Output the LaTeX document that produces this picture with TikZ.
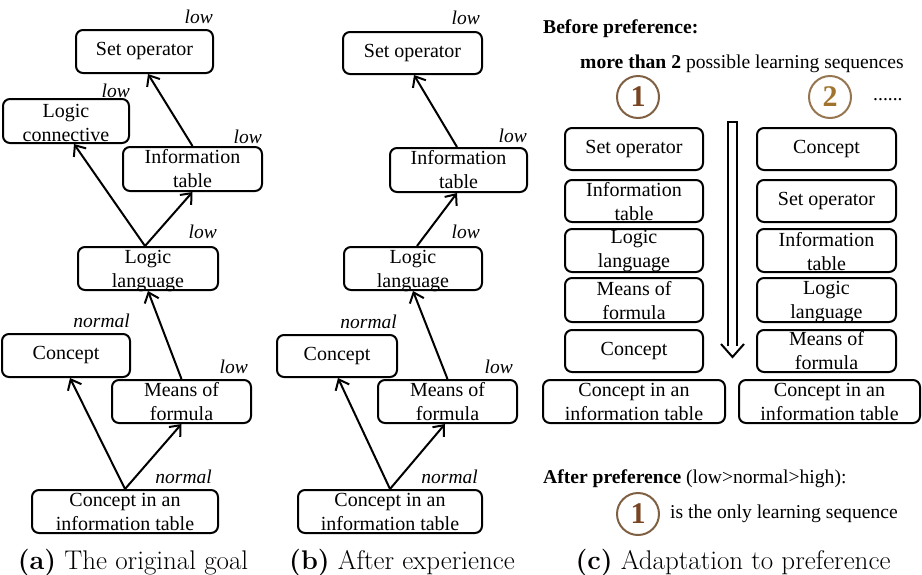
\documentclass[tikz,border=0pt]{standalone}
\usepackage{fontspec}
\newfontfamily\tnr{Liberation Serif}
\usetikzlibrary{arrows.meta}
\definecolor{ringbrown}{RGB}{128,96,66}
\definecolor{numbrown}{RGB}{120,68,34}
\definecolor{ringgold}{RGB}{150,118,80}
\definecolor{numgold}{RGB}{160,116,46}

\tikzset{
  box/.style={draw, line width=2pt, rounded corners=7pt, inner sep=0pt,
              minimum height=43pt},
  txt/.style={font=\tnr\fontsize{20}{24}\selectfont, align=center, inner sep=0pt},
  lbl/.style={font=\tnr\itshape\fontsize{19.5}{21}\selectfont, inner sep=0pt, anchor=base east},
  plain/.style={font=\tnr\fontsize{19.6}{23}\selectfont, inner sep=0pt, anchor=base west},
  link/.style={line width=2pt, -{Straight Barb[length=9pt,width=15pt]}},
  ring/.style={circle, draw=#1, line width=2pt, minimum size=42pt, inner sep=0pt,
               font=\tnr\bfseries\fontsize{30}{30}\selectfont},
  capt/.style={font=\fontsize{27}{30}\selectfont, inner sep=0pt, anchor=base},
  hollow/.style={line width=2pt, line join=miter}
}

\begin{document}
\begin{tikzpicture}[x=1pt, y=-1pt]
\useasboundingbox (0,0) rectangle (922,574);

% ---------------- (a) the original goal ----------------
\node[box, minimum width=137pt, label={[txt]center:Set operator}] (setA) at (144.5,51.5) {};
\node[box, minimum width=126pt, minimum height=44pt,
      label={[txt, yshift=-2pt]center:Logic\\connective}] (lcA) at (66,121) {};
\node[box, minimum width=139pt, minimum height=44pt,
      label={[txt]center:Information\\table}] (itA) at (192.5,169) {};
\node[box, minimum width=140pt,
      label={[txt, yshift=-3pt]center:Logic\\language}] (llA) at (148,268.5) {};
\node[box, minimum width=128pt, label={[txt]center:Concept}] (conA) at (66,355.5) {};
\node[box, minimum width=139pt, label={[txt]center:Means of\\formula}] (mfA) at (181.5,401.5) {};
\node[box, minimum width=186pt,
      label={[txt]center:Concept in an\\information table}] (citA) at (125,511.5) {};

\node[lbl] (setAl) at (213,23) {low};
\node[lbl] (lcAl) at (130,97) {low};
\node[lbl] (itAl) at (262,143) {low};
\node[lbl] (llAl) at (217,238) {low};
\node[lbl] (conAl) at (130,327) {normal};
\node[lbl] (mfAl) at (248,373) {low};
\node[lbl] (citAl) at (212,483) {normal};

\draw[link] ([xshift=-3pt]llA.north) -- ([xshift=8pt]lcA.south);
\draw[link] ([xshift=-3pt]llA.north) -- (itA.south);
\draw[link] (itA.north) -- ([xshift=3.5pt]setA.south);
\draw[link] (mfA.north) -- (llA.south);
\draw[link] (citA.north) -- ([xshift=4pt]conA.south);
\draw[link] (citA.north) -- (mfA.south);

\node[capt] (capA) at (133,569) {\textbf{(a)} The original goal};

% ---------------- (b) after experience ----------------
\node[box, minimum width=139pt, minimum height=42pt,
      label={[txt]center:Set operator}] (setB) at (412.5,53) {};
\node[box, minimum width=137pt, minimum height=44pt,
      label={[txt]center:Information\\table}] (itB) at (458.5,170) {};
\node[box, minimum width=138pt,
      label={[txt, yshift=-3pt]center:Logic\\language}] (llB) at (413,268.5) {};
\node[box, minimum width=120pt, minimum height=42pt,
      label={[txt]center:Concept}] (conB) at (337,356) {};
\node[box, minimum width=139pt, label={[txt]center:Means of\\formula}] (mfB) at (447.5,401.5) {};
\node[box, minimum width=184pt,
      label={[txt]center:Concept in an\\information table}] (citB) at (390,511.5) {};

\node[lbl] (setBl) at (480,24) {low};
\node[lbl] (itBl) at (527,142) {low};
\node[lbl] (llBl) at (480,238) {low};
\node[lbl] (conBl) at (397,328) {normal};
\node[lbl] (mfBl) at (513,373) {low};
\node[lbl] (citBl) at (478,483) {normal};

\draw[link] ([xshift=-1.5pt]itB.north) -- ([xshift=1.5pt]setB.south);
\draw[link] ([xshift=4pt]llB.north) -- ([xshift=-1.5pt]itB.south);
\draw[link] (mfB.north) -- (llB.south);
\draw[link] (citB.north) -- ([xshift=1pt]conB.south);
\draw[link] (citB.north) -- ([xshift=-2.5pt]mfB.south);

\node[capt] (capB) at (402,569) {\textbf{(b)} After experience};

% ---------------- (c) adaptation to preference ----------------
\node[plain] (before) at (543,33) {\bfseries Before preference:};
\node[plain] (more) at (580,68) {{\bfseries more than 2} possible learning sequences};

\node[ring=ringbrown, text=numbrown] (one) at (638,97) {1};
\node[ring=ringgold, text=numgold] (two) at (830,97) {2};
\node[plain] (dots) at (873,100) {......};

% sequence 1
\node[box, minimum width=138pt, minimum height=42pt,
      label={[txt]center:Set operator}] (s1a) at (634,149) {};
\node[box, minimum width=138pt, minimum height=42pt,
      label={[txt, yshift=-1pt]center:Information\\table}] (s1b) at (634,201) {};
\node[box, minimum width=138pt,
      label={[txt, yshift=-1pt]center:Logic\\language}] (s1c) at (634,250.5) {};
\node[box, minimum width=138pt, minimum height=44pt,
      label={[txt, yshift=-1pt]center:Means of\\formula}] (s1d) at (634,300) {};
\node[box, minimum width=138pt, minimum height=42pt,
      label={[txt]center:Concept}] (s1e) at (634,351) {};
\node[box, minimum width=182pt,
      label={[txt]center:Concept in an\\information table}] (s1f) at (634,401.5) {};

% sequence 2
\node[box, minimum width=139pt, minimum height=42pt,
      label={[txt]center:Concept}] (s2a) at (826.5,149) {};
\node[box, minimum width=139pt, minimum height=42pt,
      label={[txt]center:Set operator}] (s2b) at (826.5,201) {};
\node[box, minimum width=139pt,
      label={[txt, yshift=-1pt]center:Information\\table}] (s2c) at (826.5,250.5) {};
\node[box, minimum width=139pt, minimum height=44pt,
      label={[txt, yshift=-2pt]center:Logic\\language}] (s2d) at (826.5,300) {};
\node[box, minimum width=139pt, minimum height=42pt,
      label={[txt]center:Means of\\formula}] (s2e) at (826.5,351) {};
\node[box, minimum width=181pt,
      label={[txt]center:Concept in an\\information table}] (s2f) at (829.5,401.5) {};

% hollow downward arrow between the two sequences
\draw[hollow] (728,346) -- (728,122) -- (737,122) -- (737,346);
\draw[hollow] (721,344) -- (732.5,357) -- (744,344);

\node[plain] (after) at (543,483) {{\bfseries After preference} (low>normal>high):};
\node[ring=ringbrown, text=numbrown] (onebis) at (638,514) {1};
\node[plain] (only) at (670,518) {is the only learning sequence};

\node[capt] (capC) at (733,569) {\textbf{(c)} Adaptation to preference};
\end{tikzpicture}
\end{document}
